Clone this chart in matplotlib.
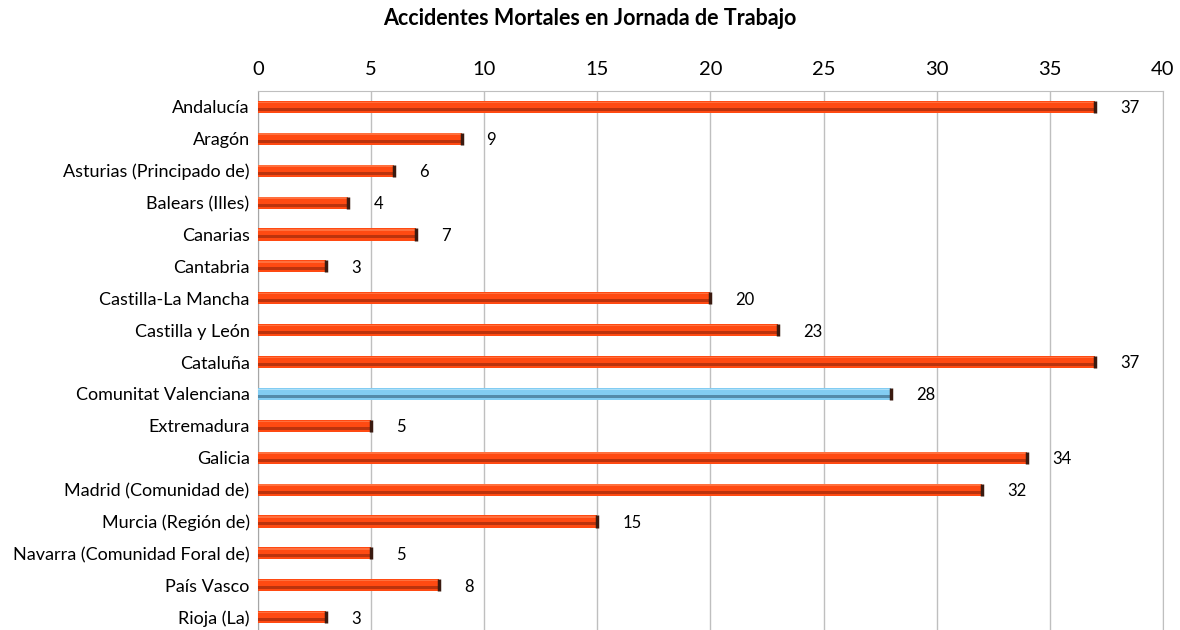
import matplotlib.pyplot as plt
import numpy as np

regiones = ["Andalucía", "Aragón", "Asturias (Principado de)", "Balears (Illes)",
            "Canarias", "Cantabria", "Castilla-La Mancha", "Castilla y León",
            "Cataluña", "Comunitat Valenciana", "Extremadura", "Galicia",
            "Madrid (Comunidad de)", "Murcia (Región de)",
            "Navarra (Comunidad Foral de)", "País Vasco", "Rioja (La)"]
accidentes = [37, 9, 6, 4, 7, 3, 20, 23, 37, 28, 5, 34, 32, 15, 5, 8, 3]
destacada = "Comunitat Valenciana"

plt.rcParams['font.family'] = ['Lato', 'DejaVu Sans']

fig = plt.figure(figsize=(11.8, 6.3), dpi=100)
ax = fig.add_axes([0.2186, -0.005, 0.767, 0.8606])

y = np.arange(len(regiones))
h = 0.38
for yi, name, v in zip(y, regiones, accidentes):
    if name == destacada:
        c_main, c_dark, c_light = "#82CCF2", "#3F6E8C", "#B8E4FA"
    else:
        c_main, c_dark, c_light = "#FF4A12", "#9E2A0C", "#FF7A4A"
    ax.barh(yi, v, height=h, color=c_main, edgecolor="none", zorder=3)
    ax.barh(yi + h * 0.2, v, height=h * 0.25, color=c_dark, edgecolor="none", zorder=4, alpha=0.7)
    ax.barh(yi - h * 0.38, v, height=h * 0.12, color=c_light, edgecolor="none", zorder=4, alpha=0.8)
    ax.plot([v, v], [yi - h / 2, yi + h / 2], color="#3a1a10", lw=2.5, zorder=5, solid_capstyle="butt")
    ax.annotate(str(v), (v, yi), xytext=(18, -1), textcoords="offset points",
                va="center", ha="left", fontsize=12, color="black")

ax.set_xlim(0, 40)
ax.set_ylim(len(regiones) - 0.5, -0.5)
ax.set_xticks(np.arange(0, 41, 5))
ax.xaxis.tick_top()
ax.tick_params(axis="x", length=0, labelsize=14.5, pad=9)
ax.tick_params(axis="y", length=0, labelsize=13, pad=6)
ax.set_yticks(y)
ax.set_yticklabels(regiones)
ax.grid(axis="x", color="#BFBFBF", lw=1, zorder=0)
for s in ax.spines.values():
    s.set_color("#BFBFBF")
ax.spines["left"].set_color("#A6A6A6")

fig.text(0.5, 0.970, "Accidentes Mortales en Jornada de Trabajo", ha="center",
         va="center", fontsize=15.5, fontweight="bold")

fig.savefig("out.png", dpi=100)
